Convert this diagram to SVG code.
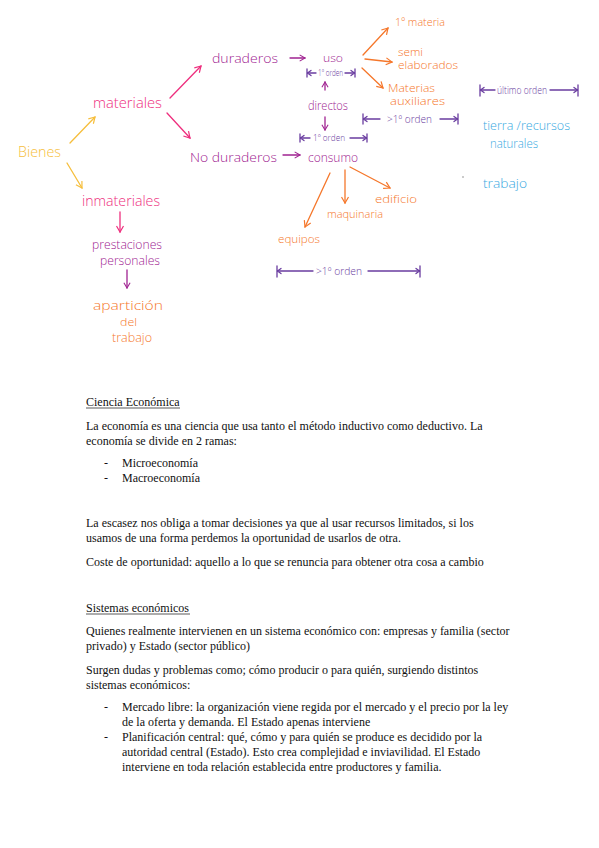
<svg xmlns="http://www.w3.org/2000/svg" width="599" height="848" viewBox="0 0 599 848">
<style>
.hw{font-family:"Open Sans","DejaVu Sans",sans-serif;font-weight:300;}
.yel{fill:#F6BE3C}
.pnk{fill:#EE2F7E}
.mag{fill:#A02391}
.org{fill:#F5772B}
.blu{fill:#38A9DF}
.dpr{fill:#6A3DA0}
.c{fill:none;stroke-width:1.3;stroke-linecap:round;stroke-linejoin:round}
.cy{stroke:#F6BE3C}
.cp{stroke:#EE2F7E}
.cm{stroke:#A02391}
.co{stroke:#F5772B}
.cd{stroke:#6A3DA0}
.doc{font-family:"Liberation Serif","Times New Roman",serif;font-size:12px;fill:#111}
</style>
<defs>
<marker id="ay" viewBox="-1 -1 9 9" refX="6" refY="3.5" markerWidth="9" markerHeight="9" markerUnits="userSpaceOnUse" orient="auto"><path d="M0,0 L6,3.5 L0,7" fill="none" stroke="#F6BE3C" stroke-width="1.2"/></marker>
<marker id="ap" viewBox="-1 -1 9 9" refX="6" refY="3.5" markerWidth="9" markerHeight="9" markerUnits="userSpaceOnUse" orient="auto"><path d="M0,0 L6,3.5 L0,7" fill="none" stroke="#EE2F7E" stroke-width="1.2"/></marker>
<marker id="am" viewBox="-1 -1 9 9" refX="6" refY="3.5" markerWidth="8" markerHeight="8" markerUnits="userSpaceOnUse" orient="auto"><path d="M0,0 L6,3.5 L0,7" fill="none" stroke="#A02391" stroke-width="1.2"/></marker>
<marker id="ao" viewBox="-1 -1 9 9" refX="6" refY="3.5" markerWidth="9" markerHeight="9" markerUnits="userSpaceOnUse" orient="auto"><path d="M0,0 L6,3.5 L0,7" fill="none" stroke="#F5772B" stroke-width="1.2"/></marker>
</defs>
<rect width="599" height="848" fill="#fff"/>

<g id="connectors">
<line class="c cy" x1="70" y1="143" x2="95" y2="117" marker-end="url(#ay)"/>
<line class="c cy" x1="67" y1="163" x2="82" y2="188" marker-end="url(#ay)"/>
<line class="c cp" x1="170" y1="98" x2="201" y2="66" marker-end="url(#ap)"/>
<line class="c cp" x1="167" y1="113" x2="190" y2="138" marker-end="url(#ap)"/>
<line class="c cp" x1="120" y1="212" x2="120" y2="232" marker-end="url(#ap)"/>
<line class="c cm" x1="290" y1="58" x2="305" y2="58" marker-end="url(#am)"/>
<line class="c cm" x1="283" y1="155" x2="300" y2="155" marker-end="url(#am)"/>
<line class="c cm" x1="325" y1="90" x2="325" y2="82" marker-end="url(#am)"/>
<line class="c cm" x1="325" y1="117" x2="325" y2="130" marker-end="url(#am)"/>
<line class="c cm" x1="127" y1="270" x2="127" y2="288" marker-end="url(#am)"/>
<line class="c co" x1="363" y1="55" x2="388" y2="28" marker-end="url(#ao)"/>
<line class="c co" x1="365" y1="59" x2="392" y2="62" marker-end="url(#ao)"/>
<line class="c co" x1="362" y1="68" x2="383" y2="88" marker-end="url(#ao)"/>
<line class="c co" x1="350" y1="167" x2="390" y2="188" marker-end="url(#ao)"/>
<line class="c co" x1="345" y1="170" x2="345" y2="203" marker-end="url(#ao)"/>
<line class="c co" x1="330" y1="173" x2="305" y2="227" marker-end="url(#ao)"/>
</g>

<g id="bienes"><text class="hw yel" x="18" y="157" font-size="15" textLength="43" lengthAdjust="spacingAndGlyphs">Bienes</text></g>
<g id="materiales"><text class="hw pnk" x="93" y="108" font-size="14" textLength="69" lengthAdjust="spacingAndGlyphs">materiales</text></g>
<g id="inmateriales"><text class="hw pnk" x="82" y="206" font-size="14" textLength="78" lengthAdjust="spacingAndGlyphs">inmateriales</text></g>
<g id="duraderos"><text class="hw mag" x="212" y="63" font-size="13" textLength="66" lengthAdjust="spacingAndGlyphs">duraderos</text></g>
<g id="uso"><text class="hw mag" x="323" y="62" font-size="11" textLength="20" lengthAdjust="spacingAndGlyphs">uso</text></g>
<g id="no-duraderos"><text class="hw mag" x="190" y="162" font-size="13" textLength="87" lengthAdjust="spacingAndGlyphs">No duraderos</text></g>
<g id="consumo"><text class="hw mag" x="308" y="162" font-size="13" textLength="50" lengthAdjust="spacingAndGlyphs">consumo</text></g>
<g id="directos"><text class="hw mag" x="308" y="110" font-size="13" textLength="40" lengthAdjust="spacingAndGlyphs">directos</text></g>
<g id="prestaciones"><text class="hw mag" x="92" y="249" font-size="12" textLength="70" lengthAdjust="spacingAndGlyphs">prestaciones</text><text class="hw mag" x="100" y="265" font-size="12" textLength="60" lengthAdjust="spacingAndGlyphs">personales</text></g>
<g id="aparicion"><text class="hw org" x="93" y="310" font-size="13" textLength="70" lengthAdjust="spacingAndGlyphs">apartición</text><text class="hw org" x="120" y="326" font-size="10" textLength="17" lengthAdjust="spacingAndGlyphs">del</text><text class="hw org" x="112" y="342" font-size="12" textLength="40" lengthAdjust="spacingAndGlyphs">trabajo</text></g>
<g id="materia"><text class="hw org" x="395" y="26" font-size="11" textLength="50" lengthAdjust="spacingAndGlyphs">1º materia</text></g>
<g id="semi"><text class="hw org" x="398" y="56" font-size="10" textLength="25" lengthAdjust="spacingAndGlyphs">semi</text><text class="hw org" x="398" y="69" font-size="10" textLength="60" lengthAdjust="spacingAndGlyphs">elaborados</text></g>
<g id="auxiliares"><text class="hw org" x="388" y="92" font-size="10" textLength="47" lengthAdjust="spacingAndGlyphs">Materias</text><text class="hw org" x="390" y="105" font-size="10" textLength="55" lengthAdjust="spacingAndGlyphs">auxiliares</text></g>
<g id="edificio"><text class="hw org" x="375" y="203" font-size="11" textLength="42" lengthAdjust="spacingAndGlyphs">edificio</text></g>
<g id="maquinaria"><text class="hw org" x="327" y="218" font-size="11" textLength="56" lengthAdjust="spacingAndGlyphs">maquinaria</text></g>
<g id="equipos"><text class="hw org" x="278" y="243" font-size="11" textLength="42" lengthAdjust="spacingAndGlyphs">equipos</text></g>
<g id="tierra"><text class="hw blu" x="483" y="130" font-size="12" textLength="87" lengthAdjust="spacingAndGlyphs">tierra /recursos</text><text class="hw blu" x="490" y="148" font-size="12" textLength="48" lengthAdjust="spacingAndGlyphs">naturales</text></g>
<g id="trabajo"><text class="hw blu" x="483" y="188" font-size="13" textLength="44" lengthAdjust="spacingAndGlyphs">trabajo</text></g>
<circle cx="463" cy="177" r="0.8" fill="#888"/>

<g id="orden-uso">
<path class="c cd" d="M307,69 V77 M316,73 H307 M345,73 H355 M355,69 V77"/>
<path class="c cd" d="M311,70.5 L307.5,73 L311,75.5 M351,70.5 L354.5,73 L351,75.5"/>
<text class="hw dpr" x="318" y="76" font-size="8.5" textLength="25" lengthAdjust="spacingAndGlyphs">1º orden</text>
</g>
<g id="orden-consumo">
<path class="c cd" d="M300,134 V142 M310,138 H300 M350,138 H367 M367,134 V142"/>
<path class="c cd" d="M304,135.5 L300.5,138 L304,140.5 M363,135.5 L366.5,138 L363,140.5"/>
<text class="hw dpr" x="313" y="141" font-size="9" textLength="32" lengthAdjust="spacingAndGlyphs">1º orden</text>
</g>
<g id="orden-mayor-1">
<path class="c cd" d="M363,114 V124 M380,119 H363 M440,119 H458 M458,114 V124"/>
<path class="c cd" d="M367,116.5 L363.5,119 L367,121.5 M454,116.5 L457.5,119 L454,121.5"/>
<text class="hw dpr" x="387" y="123" font-size="10" textLength="45" lengthAdjust="spacingAndGlyphs">&gt;1º orden</text>
</g>
<g id="orden-ultimo">
<path class="c cd" d="M480,85 V96 M495,90 H480 M550,90 H578 M578,85 V96"/>
<path class="c cd" d="M484,87.5 L480.5,90 L484,92.5 M574,87.5 L577.5,90 L574,92.5"/>
<text class="hw dpr" x="497" y="94" font-size="10" textLength="50" lengthAdjust="spacingAndGlyphs">último orden</text>
</g>
<g id="orden-mayor-2">
<path class="c cd" d="M277,266 V277 M313,271 H277 M368,271 H420 M420,266 V277"/>
<path class="c cd" d="M281,268.5 L277.5,271 L281,273.5 M416,268.5 L419.5,271 L416,273.5"/>
<text class="hw dpr" x="316" y="275" font-size="10" textLength="46" lengthAdjust="spacingAndGlyphs">&gt;1º orden</text>
</g>

<g id="texto">
<text class="doc" x="86" y="406">Ciencia Económica</text>
<line x1="86" y1="408" x2="180" y2="408" stroke="#111" stroke-width="0.7"/>
<text class="doc" x="86" y="430">La economía es una ciencia que usa tanto el método inductivo como deductivo. La</text>
<text class="doc" x="86" y="445">economía se divide en 2 ramas:</text>
<text class="doc" x="104" y="467">-</text><text class="doc" x="122" y="467">Microeconomía</text>
<text class="doc" x="104" y="482">-</text><text class="doc" x="122" y="482">Macroeconomía</text>
<text class="doc" x="86" y="527">La escasez nos obliga a tomar decisiones ya que al usar recursos limitados, si los</text>
<text class="doc" x="86" y="542">usamos de una forma perdemos la oportunidad de usarlos de otra.</text>
<text class="doc" x="86" y="566">Coste de oportunidad: aquello a lo que se renuncia para obtener otra cosa a cambio</text>
<text class="doc" x="86" y="612">Sistemas económicos</text>
<line x1="86" y1="614" x2="190" y2="614" stroke="#111" stroke-width="0.7"/>
<text class="doc" x="86" y="635">Quienes realmente intervienen en un sistema económico con: empresas y familia (sector</text>
<text class="doc" x="86" y="650">privado) y Estado (sector público)</text>
<text class="doc" x="86" y="674">Surgen dudas y problemas como; cómo producir o para quién, surgiendo distintos</text>
<text class="doc" x="86" y="689">sistemas económicos:</text>
<text class="doc" x="104" y="711">-</text>
<text class="doc" x="122" y="711">Mercado libre: la organización viene regida por el mercado y el precio por la ley</text>
<text class="doc" x="122" y="726">de la oferta y demanda. El Estado apenas interviene</text>
<text class="doc" x="104" y="741">-</text>
<text class="doc" x="122" y="741">Planificación central: qué, cómo y para quién se produce es decidido por la</text>
<text class="doc" x="122" y="756">autoridad central (Estado). Esto crea complejidad e inviavilidad. El Estado</text>
<text class="doc" x="122" y="771">interviene en toda relación establecida entre productores y familia.</text>
</g>
</svg>
